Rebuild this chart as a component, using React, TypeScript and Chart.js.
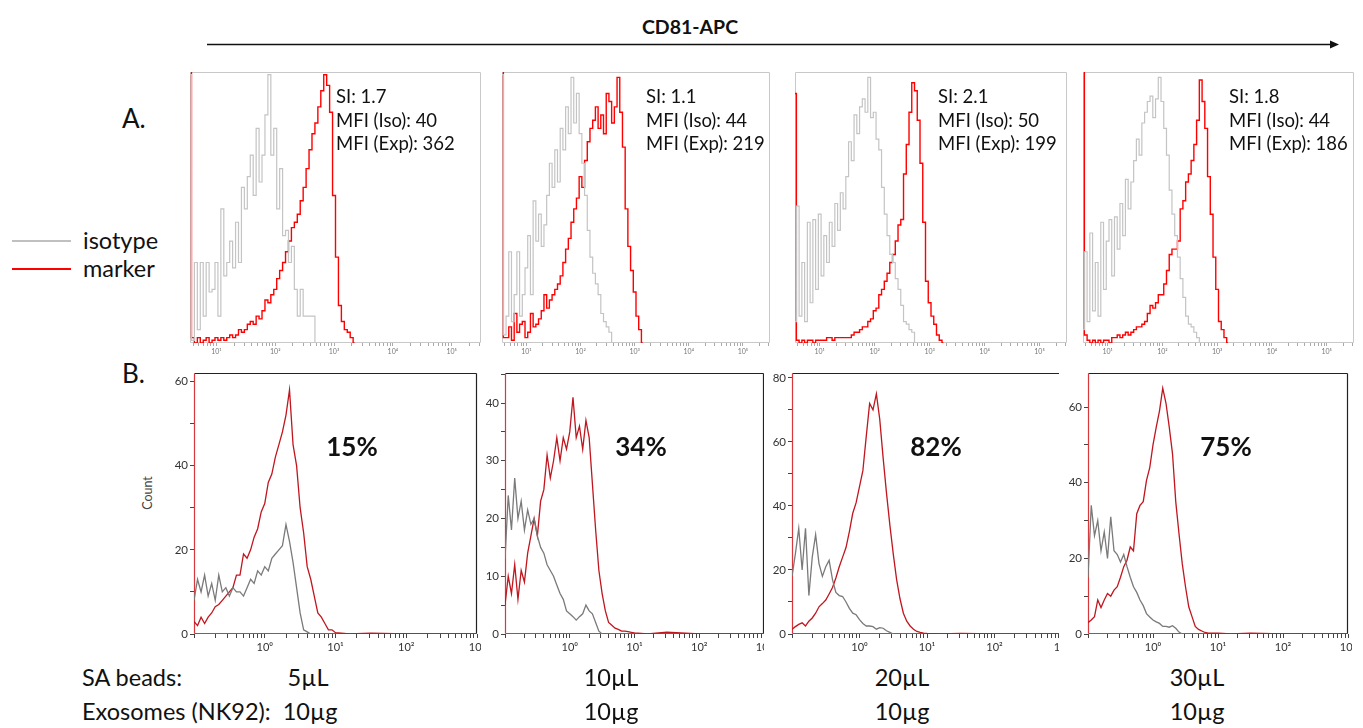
import React, { useEffect, useRef } from "react";
import { Chart, registerables } from "chart.js";

Chart.register(...registerables);

const FONT = "Lato, 'Open Sans', 'DejaVu Sans', sans-serif";

// ---------- DATA ----------
// Panel A: bin centres in log10(fluorescence), counts in % of panel max
const topBins = [
  0.55, 0.6, 0.65, 0.7, 0.75, 0.8, 0.85, 0.9, 0.95, 1,
  1.05, 1.1, 1.15, 1.2, 1.25, 1.3, 1.35, 1.4, 1.45, 1.5,
  1.55, 1.6, 1.65, 1.7, 1.75, 1.8, 1.85, 1.9, 1.95, 2,
  2.05, 2.1, 2.15, 2.2, 2.25, 2.3, 2.35, 2.4, 2.45, 2.5,
  2.55, 2.6, 2.65, 2.7, 2.75, 2.8, 2.85, 2.9, 2.95, 3,
  3.05, 3.1, 3.15, 3.2, 3.25, 3.3, 3.35, 3.4, 3.45, 3.5,
];
const a1Iso = [
  100, 1, 30, 5, 30, 10, 30, 19, 20, 30,
  10, 50, 25, 30, 38, 28, 45, 30, 58, 50,
  62, 70, 55, 80, 60, 70, 85, 100, 70, 80,
  50, 65, 40, 42, 30, 36, 20, 10, 20, 10,
  10, 10, 10, 0,
];
const a1Marker = [
  130, 2, 0, 2, 0, 1, 2, 0, 1, 2,
  1, 2, 1, 2, 3, 2, 3, 5, 4, 5,
  7, 8, 7, 10, 9, 12, 16, 15, 18, 20,
  24, 27, 30, 34, 38, 43, 45, 48, 53, 58,
  65, 72, 78, 82, 88, 94, 100, 96, 86, 55,
  32, 14, 8, 5, 4, 2, 0,
];
const a2Iso = [
  100, 3, 10, 34, 8, 18, 34, 10, 18, 28,
  40, 18, 53, 38, 48, 36, 44, 55, 67, 58,
  72, 60, 80, 72, 88, 78, 99, 82, 93, 78,
  67, 55, 42, 32, 26, 22, 18, 11, 8, 6,
  4, 0,
];
const a2Marker = [
  130, 2, 2, 6, 1, 11, 4, 7, 8, 2,
  4, 11, 6, 7, 9, 12, 18, 13, 16, 18,
  20, 22, 25, 30, 35, 39, 45, 50, 54, 62,
  58, 68, 75, 80, 83, 88, 80, 85, 78, 93,
  90, 82, 88, 99, 86, 73, 50, 36, 27, 19,
  10, 5, 0,
];
const a3Iso = [
  8, 51, 10, 30, 8, 45, 15, 46, 20, 48,
  25, 40, 30, 45, 36, 52, 42, 56, 50, 62,
  75, 68, 85, 78, 88, 91, 86, 99, 84, 86,
  76, 72, 58, 48, 40, 33, 30, 24, 20, 14,
  8, 7, 5, 4, 0,
];
const a3Marker = [
  93, 1, 0, 1, 0, 1, 1, 0, 1, 1,
  1, 1, 2, 2, 1, 2, 2, 2, 2, 2,
  2, 3, 4, 4, 5, 6, 6, 8, 9, 12,
  13, 18, 20, 23, 26, 30, 33, 38, 44, 46,
  63, 74, 86, 97, 94, 83, 67, 45, 23, 15,
  10, 7, 3, 1, 0,
];
const a4Iso = [
  5, 34, 8, 41, 12, 30, 10, 45, 20, 38,
  46, 25, 47, 35, 52, 40, 61, 50, 60, 68,
  76, 70, 82, 86, 90, 92, 84, 91, 99, 90,
  80, 70, 57, 48, 40, 32, 24, 17, 10, 7,
  6, 4, 2, 0,
];
const a4Marker = [
  130, 3, 1, 0, 1, 0, 1, 0, 1, 1,
  0, 2, 2, 3, 2, 3, 4, 3, 4, 5,
  6, 6, 7, 8, 11, 14, 13, 15, 18, 18,
  22, 27, 33, 35, 35, 38, 50, 53, 60, 63,
  68, 74, 83, 98, 90, 80, 62, 48, 32, 20,
  8, 5, 2, 0,
];

// Panel B: bin centres in log10(fluorescence), counts
const bottomBins = [
  -1, -0.95, -0.9, -0.85, -0.8, -0.75, -0.7, -0.65, -0.6, -0.55,
  -0.5, -0.45, -0.4, -0.35, -0.3, -0.25, -0.2, -0.15, -0.1, -0.05,
  0, 0.05, 0.1, 0.15, 0.2, 0.25, 0.3, 0.35, 0.4, 0.45,
  0.5, 0.55, 0.6, 0.65, 0.7, 0.75, 0.8, 0.85, 0.9, 0.95,
  1, 1.2, 1.5, 2, 2.5, 3,
];
const b1Iso = [
  8, 13, 10, 14, 9, 12, 8, 14, 10, 11,
  9, 11, 10, 10, 9, 11, 13, 12, 15, 14,
  16, 15, 18, 19, 20, 21, 26, 22, 17, 11,
  5, 1, 0.5, 0,
];
const b1Marker = [
  3, 2, 4, 2.5, 4, 5, 6.5, 7, 8, 9,
  10, 11, 14, 14, 19, 18, 20, 23, 25, 29,
  31, 36, 38, 42, 45, 48, 52, 58, 45, 40,
  30, 24, 16, 13, 9, 5, 4, 2.5, 1, 1,
  0.3, 0, 0.2, 0, 0, 0,
];
const b2Iso = [
  13, 24, 18, 27, 20, 23, 18, 21.5, 19, 20,
  17, 15, 14, 12, 11, 10, 8.5, 7, 6, 4,
  3.5, 3, 2.4, 3, 3.5, 5, 4, 3.5, 2, 0.5,
  0,
];
const b2Marker = [
  5, 10, 7, 12, 6, 11, 9, 14, 17, 20,
  17, 23, 25, 31, 27, 30, 34, 30, 34, 32,
  35, 41, 34, 36, 32, 37, 34, 26, 18, 11,
  7, 4, 2, 1.5, 1, 0.8, 0.5, 0.5, 0.4, 0.3,
  0.2, 0, 0.3, 0, 0, 0,
];
const b3Iso = [
  18, 25, 33, 20, 33, 12, 24, 31, 22, 18,
  21, 23, 17, 13, 12, 11.7, 10, 8, 6.5, 6,
  4.5, 3.3, 2.5, 2.5, 2.3, 1.5, 2, 1.8, 1, 0.5,
  0,
];
const b3Marker = [
  1.5, 2.3, 3, 3.5, 2.5, 4, 5, 6.5, 8.5, 9.5,
  10.6, 12.5, 14.5, 17.5, 21, 24, 27, 32, 37.7, 41,
  46, 51, 61.7, 72, 70, 75, 67, 55, 44, 34,
  25, 17, 11, 6.5, 4, 2.5, 1.5, 0.8, 0.5, 0.3,
  0.2, 0, 0.2, 0, 0, 0,
];
const b4Iso = [
  15, 34, 26, 30, 22, 27, 20, 31, 22, 21,
  19, 21, 17.8, 15, 12.5, 11, 9, 7.5, 5.4, 4.5,
  3.7, 3.2, 2.8, 2, 2, 1.8, 2.2, 1.5, 0.5, 0,
];
const b4Marker = [
  3, 3.7, 4.6, 9, 7, 9, 10.7, 10, 11.6, 12.5,
  15, 17.8, 19.5, 23, 22, 31.8, 34, 35, 40.6, 44,
  50, 54.7, 59, 65, 61, 54.7, 47.7, 35, 26.5, 18.6,
  12.5, 7.2, 4.6, 2, 1.2, 0.8, 0.4, 0.2, 0.2, 0.2,
  0.2, 0, 0.2, 0, 0, 0,
];

const bottomYMax = [62, 45.2, 81.5, 69];
const bottomYMajor = [20, 10, 20, 20];

const siLines = [
  ["SI: 1.7", "MFI (Iso): 40", "MFI (Exp): 362"],
  ["SI: 1.1", "MFI (Iso): 44", "MFI (Exp): 219"],
  ["SI: 2.1", "MFI (Iso): 50", "MFI (Exp): 199"],
  ["SI: 1.8", "MFI (Iso): 44", "MFI (Exp): 186"],
];
const percentLabels = ["15%", "34%", "82%", "75%"];
const beadLabels = ["5µL", "10µL", "20µL", "30µL"];
const exoLabels = ["10µg", "10µg", "10µg", "10µg"];
const sup = ["⁰", "¹", "²", "³", "⁴", "⁵"];

// ---------- LAYOUT ----------
const topFrames = [
  { l: 190, r: 481 },
  { l: 502, r: 770 },
  { l: 795, r: 1067 },
  { l: 1083, r: 1354 },
];
const TOP_T = 72;
const TOP_B = 343;
const bottomFrames = [
  { l: 194, r: 477 },
  { l: 505, r: 764 },
  { l: 792, r: 1062 },
  { l: 1088, r: 1348 },
];
const BOT_T = 373;
const BOT_B = 634;
const siX = [336, 646, 938, 1229];
const pctX = [352, 641, 936, 1226];
const beadX = [308, 611, 902, 1197];
const exoX = [310, 611, 902, 1197];

// ---------- helpers ----------
const isInt = (v: number) => Math.abs(v - Math.round(v)) < 1e-6;
function logTicks(min: number, max: number) {
  const out: number[] = [];
  for (let n = Math.floor(min); n <= Math.ceil(max); n++) {
    for (let k = 1; k <= 9; k++) {
      const v = n + Math.log10(k);
      if (v >= min - 1e-9 && v <= max + 1e-9) out.push(v);
    }
  }
  return out;
}
const series = (xs: number[], ys: number[]) =>
  xs.map((x, i) => ({ x, y: ys[i] === undefined ? null : ys[i] }));

const framePlugin = {
  id: "frame",
  beforeDatasetsDraw(chart: any, _a: any, opts: any) {
    const { left, right, top, bottom } = chart.chartArea;
    const ctx = chart.ctx;
    ctx.save();
    ctx.lineWidth = opts.width || 1;
    const L = Math.round(left) + 0.5;
    const R = Math.round(right) - 0.5;
    const T = Math.round(top) + 0.5;
    const B = Math.round(bottom) - 0.5;
    const seg = (x1: number, y1: number, x2: number, y2: number, c: string | null) => {
      if (!c) return;
      ctx.strokeStyle = c;
      ctx.beginPath();
      ctx.moveTo(x1, y1);
      ctx.lineTo(x2, y2);
      ctx.stroke();
    };
    seg(L, T, R, T, opts.top);
    seg(R, T, R, B, opts.right);
    seg(L, B, R, B, opts.bottom);
    seg(L, T, L, B, opts.left);
    ctx.restore();
  },
};

function topConfig(iso: number[], marker: number[]) {
  return {
    type: "line",
    data: {
      datasets: [
        { data: series(topBins, iso), borderColor: "#c4c4c4", borderWidth: 1.2, stepped: "middle", pointRadius: 0, fill: false },
        { data: series(topBins, marker), borderColor: "#ff0000", borderWidth: 1.4, stepped: "middle", pointRadius: 0, fill: false },
      ],
    },
    options: {
      responsive: false,
      animation: false,
      devicePixelRatio: 1,
      events: [],
      layout: { padding: { left: 1, right: 1, top: 1, bottom: 0 } },
      scales: {
        x: {
          type: "linear",
          min: 0.55,
          max: 5.5,
          afterBuildTicks: (s: any) => {
            s.ticks = logTicks(0.55, 5.5).map((v) => ({ value: v }));
          },
          afterFit: (s: any) => {
            s.height = 20;
            s.paddingLeft = 0;
            s.paddingRight = 0;
          },
          ticks: {
            autoSkip: false,
            maxRotation: 0,
            padding: 2,
            color: "#777",
            font: { size: 7, family: FONT },
            callback: (v: number) => (isInt(v) ? "10" + sup[Math.round(v)] : ""),
          },
          grid: { drawOnChartArea: false, tickLength: 3, color: "#aaa" },
          border: { display: false },
        },
        y: { display: false, min: 0, max: 101 },
      },
      plugins: {
        legend: { display: false },
        tooltip: { enabled: false },
        frame: { top: "#c8c8c8", right: "#c8c8c8", bottom: "#c8c8c8", left: "#c8c8c8", width: 1 },
      },
    },
    plugins: [framePlugin],
  };
}

function bottomConfig(iso: number[], marker: number[], yMax: number, yMajor: number, showRight: boolean) {
  return {
    type: "line",
    data: {
      datasets: [
        { data: series(bottomBins, iso), borderColor: "#7a7a7a", borderWidth: 1.3, pointRadius: 0, fill: false, tension: 0 },
        { data: series(bottomBins, marker), borderColor: "#c0161e", borderWidth: 1.3, pointRadius: 0, fill: false, tension: 0 },
      ],
    },
    options: {
      responsive: false,
      animation: false,
      devicePixelRatio: 1,
      events: [],
      layout: { padding: { left: 0, right: 4, top: 2, bottom: 0 } },
      scales: {
        x: {
          type: "linear",
          min: -1,
          max: 3,
          afterBuildTicks: (s: any) => {
            s.ticks = logTicks(-1, 3).map((v) => ({ value: v }));
          },
          afterFit: (s: any) => {
            s.height = 22;
            s.paddingLeft = 0;
            s.paddingRight = 0;
          },
          ticks: {
            autoSkip: false,
            maxRotation: 0,
            padding: 3,
            color: "#333",
            font: { size: 11, family: FONT },
            callback: (v: number) => (isInt(v) && v >= 0 ? "10" + sup[Math.round(v)] : ""),
          },
          grid: { drawOnChartArea: false, tickLength: 4, color: "#444" },
          border: { display: false },
        },
        y: {
          type: "linear",
          min: 0,
          max: yMax,
          afterFit: (s: any) => {
            s.width = 28;
            s.paddingTop = 0;
            s.paddingBottom = 0;
          },
          ticks: {
            stepSize: yMajor / 2,
            includeBounds: false,
            autoSkip: false,
            padding: 2,
            color: "#333",
            font: { size: 11.5, family: FONT },
            callback: (v: number) => (Math.abs(v % yMajor) < 1e-6 ? String(v) : ""),
          },
          grid: { drawOnChartArea: false, tickLength: 4, color: "#444" },
          border: { display: false },
        },
      },
      plugins: {
        legend: { display: false },
        tooltip: { enabled: false },
        frame: { top: "#222", right: showRight ? "#222" : null, bottom: "#d8383c", left: "#d8383c", width: 1.2 },
      },
    },
    plugins: [framePlugin],
  };
}

function ChartBox(props: {
  left: number;
  top: number;
  width: number;
  height: number;
  clipWidth?: number;
  background?: string;
  config: () => any;
}) {
  const ref = useRef<HTMLCanvasElement>(null);
  useEffect(() => {
    const chart = new Chart(ref.current as HTMLCanvasElement, props.config() as any);
    return () => chart.destroy();
  }, []);
  return (
    <div
      style={{
        position: "absolute",
        left: props.left,
        top: props.top,
        width: props.clipWidth ?? props.width,
        height: props.height,
        overflow: "hidden",
        background: props.background,
      }}
    >
      <canvas ref={ref} width={props.width} height={props.height} style={{ display: "block", width: props.width, height: props.height }} />
    </div>
  );
}

function Txt(props: { x: number; y: number; size: number; bold?: boolean; center?: boolean; color?: string; children: any }) {
  return (
    <div
      style={{
        position: "absolute",
        left: props.x,
        top: props.y,
        fontSize: props.size,
        fontWeight: props.bold ? 700 : 400,
        lineHeight: 1,
        whiteSpace: "nowrap",
        color: props.color || "#111",
        fontFamily: FONT,
        transform: `translate(${props.center ? "-50%" : "0"}, -50%)`,
      }}
    >
      {props.children}
    </div>
  );
}

const topIso = [a1Iso, a2Iso, a3Iso, a4Iso];
const topMarker = [a1Marker, a2Marker, a3Marker, a4Marker];
const botIso = [b1Iso, b2Iso, b3Iso, b4Iso];
const botMarker = [b1Marker, b2Marker, b3Marker, b4Marker];

export default function App() {
  return (
    <div style={{ position: "fixed", left: 0, top: 0, width: 1363, height: 728, background: "#fff", overflow: "hidden", fontFamily: FONT }}>
      <Txt x={690} y={27} size={19.5} bold center>
        CD81-APC
      </Txt>
      <svg width={1363} height={60} style={{ position: "absolute", left: 0, top: 0 }}>
        <line x1={207} y1={44.5} x2={1332} y2={44.5} stroke="#111" strokeWidth={1.5} />
        <polygon points="1330,40.5 1339,44.5 1330,48.5" fill="#111" />
      </svg>

      <Txt x={122} y={118} size={26}>A.</Txt>
      <Txt x={122} y={373} size={26}>B.</Txt>

      <div style={{ position: "absolute", left: 12, top: 240, width: 59, height: 2, background: "#c0c0c0" }} />
      <div style={{ position: "absolute", left: 12, top: 268, width: 59, height: 2, background: "#ff0000" }} />
      <Txt x={83} y={241} size={23.5}>isotype</Txt>
      <Txt x={83} y={269} size={23.5}>marker</Txt>

      {topFrames.map((f, i) => (
        <ChartBox
          key={"t" + i}
          left={f.l - 1}
          top={TOP_T - 1}
          width={f.r - f.l + 2}
          height={TOP_B - TOP_T + 1 + 20}
          config={() => topConfig(topIso[i], topMarker[i])}
        />
      ))}
      {siLines.map((lines, i) =>
        lines.map((s, j) => (
          <Txt key={"si" + i + j} x={siX[i]} y={96 + j * 23.5} size={18.5}>
            {s}
          </Txt>
        ))
      )}

      {bottomFrames.map((f, i) => (
        <ChartBox
          key={"b" + i}
          left={f.l - 28}
          top={BOT_T - 2}
          width={28 + f.r - f.l + 4}
          height={2 + BOT_B - BOT_T + 22}
          clipWidth={i === 2 ? 1059 - (f.l - 28) : undefined}
          background={i === 2 ? "#fff" : undefined}
          config={() => bottomConfig(botIso[i], botMarker[i], bottomYMax[i], bottomYMajor[i], i !== 2)}
        />
      ))}
      {percentLabels.map((p, i) => (
        <Txt key={"p" + i} x={pctX[i]} y={446} size={26} bold center>
          {p}
        </Txt>
      ))}
      <div
        style={{
          position: "absolute",
          left: 147,
          top: 493,
          fontSize: 12.5,
          color: "#444",
          fontFamily: FONT,
          transform: "translate(-50%, -50%) rotate(-90deg)",
          whiteSpace: "nowrap",
        }}
      >
        Count
      </div>

      <Txt x={82} y={678} size={23.5}>SA beads:</Txt>
      <Txt x={82} y={712} size={23.5}>Exosomes (NK92):</Txt>
      {beadLabels.map((s, i) => (
        <Txt key={"bl" + i} x={beadX[i]} y={678} size={23.5} center>
          {s}
        </Txt>
      ))}
      {exoLabels.map((s, i) => (
        <Txt key={"el" + i} x={exoX[i]} y={712} size={23.5} center>
          {s}
        </Txt>
      ))}
    </div>
  );
}
